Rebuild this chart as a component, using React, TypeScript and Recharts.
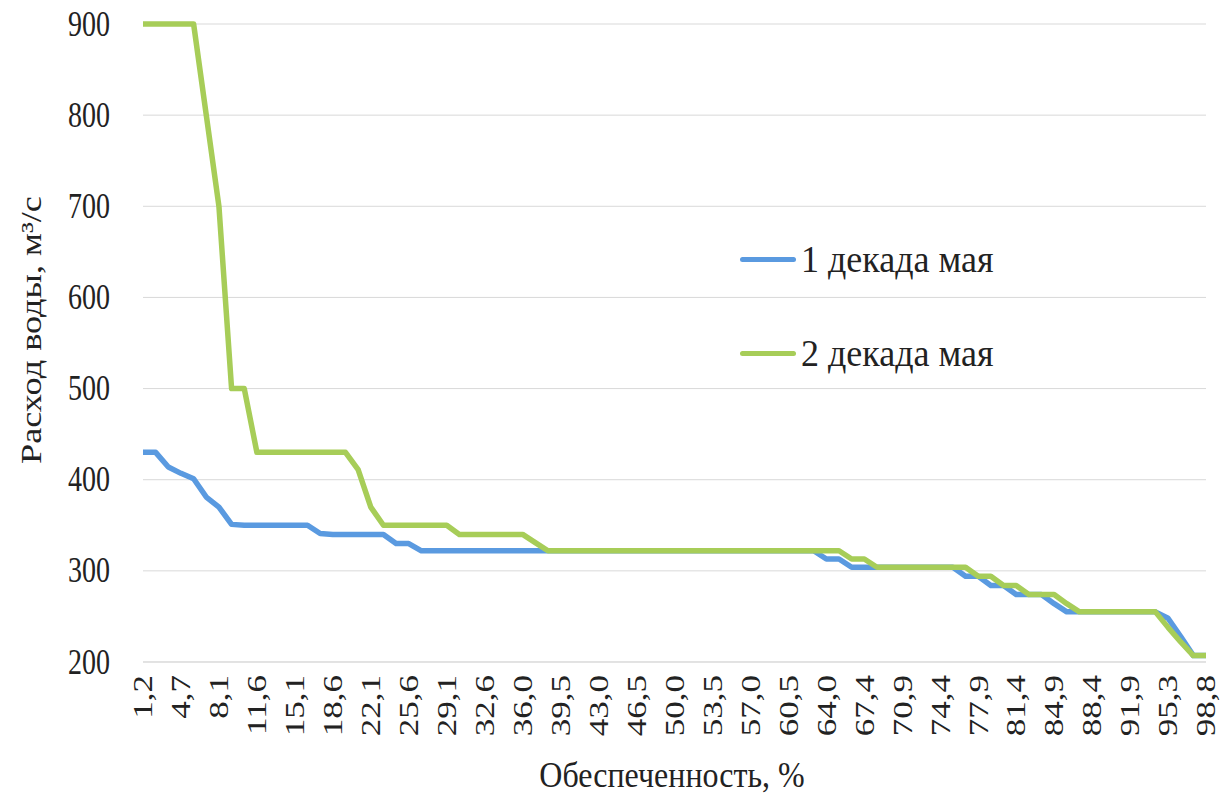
import { LineChart, Line, XAxis, YAxis, CartesianGrid, Legend, Label } from 'recharts';

// обеспеченность p = m/(n+1), n = 85
const categories = [
  '1,2', '2,3', '3,5', '4,7', '5,8', '7,0', '8,1', '9,3', '10,5', '11,6',
  '12,8', '14,0', '15,1', '16,3', '17,4', '18,6', '19,8', '20,9', '22,1', '23,3',
  '24,4', '25,6', '26,7', '27,9', '29,1', '30,2', '31,4', '32,6', '33,7', '34,9',
  '36,0', '37,2', '38,4', '39,5', '40,7', '41,9', '43,0', '44,2', '45,3', '46,5',
  '47,7', '48,8', '50,0', '51,2', '52,3', '53,5', '54,7', '55,8', '57,0', '58,1',
  '59,3', '60,5', '61,6', '62,8', '64,0', '65,1', '66,3', '67,4', '68,6', '69,8',
  '70,9', '72,1', '73,3', '74,4', '75,6', '76,7', '77,9', '79,1', '80,2', '81,4',
  '82,6', '83,7', '84,9', '86,0', '87,2', '88,4', '89,5', '90,7', '91,9', '93,0',
  '94,2', '95,3', '96,5', '97,7', '98,8',
];

// 1 декада мая
const decade1 = [
  430, 430, 414, 407, 401, 381, 370, 351, 350, 350,
  350, 350, 350, 350, 341, 340, 340, 340, 340, 340,
  330, 330, 322, 322, 322, 322, 322, 322, 322, 322,
  322, 322, 322, 322, 322, 322, 322, 322, 322, 322,
  322, 322, 322, 322, 322, 322, 322, 322, 322, 322,
  322, 322, 322, 322, 313, 313, 304, 304, 304, 304,
  304, 304, 304, 304, 304, 294, 294, 284, 284, 274,
  274, 274, 264, 255, 255, 255, 255, 255, 255, 255,
  255, 248, 228, 207, 207,
];

// 2 декада мая
const decade2 = [
  900, 900, 900, 900, 900, 800, 700, 500, 500, 430,
  430, 430, 430, 430, 430, 430, 430, 411, 370, 350,
  350, 350, 350, 350, 350, 340, 340, 340, 340, 340,
  340, 331, 322, 322, 322, 322, 322, 322, 322, 322,
  322, 322, 322, 322, 322, 322, 322, 322, 322, 322,
  322, 322, 322, 322, 322, 322, 313, 313, 304, 304,
  304, 304, 304, 304, 304, 304, 294, 294, 284, 284,
  274, 274, 274, 264, 255, 255, 255, 255, 255, 255,
  255, 238, 222, 207, 207,
];

const yTicks = [200, 300, 400, 500, 600, 700, 800, 900];

const FONT = 'Liberation Serif';
const STRETCH = 1.25; // the scan is stretched vertically
const TEXT = '#222';

const data = categories.map((c, i) => ({ p: c, d1: decade1[i], d2: decade2[i] }));

const svgText = { fontFamily: FONT };

function YTick({ x, y, payload }: any) {
  return (
    <g transform={`translate(${x},${y}) scale(1,${STRETCH})`}>
      <text x={0} y={0} dy={9.3} textAnchor="end" style={svgText} fontSize={28} fill={TEXT}>
        {payload.value}
      </text>
    </g>
  );
}

function XTick({ x, y, payload }: any) {
  return (
    <g transform={`translate(${x},${y}) rotate(-90) scale(${STRETCH},1)`}>
      <text x={0} y={0} dy={9.3} textAnchor="end" style={svgText} fontSize={28} fill={TEXT}>
        {payload.value}
      </text>
    </g>
  );
}

const renderLegend = ({ payload }: any) => (
  <div>
    {(payload || []).map((item: any) => (
      <div key={item.value} style={{ height: 94, display: 'flex', alignItems: 'center' }}>
        <div style={{ width: 56, height: 5, borderRadius: 3, background: item.color }} />
        <span
          style={{
            marginLeft: 5,
            fontFamily: FONT,
            fontSize: 36,
            lineHeight: 1,
            color: TEXT,
            display: 'inline-block',
            transform: 'scaleY(1.08)',
            whiteSpace: 'nowrap',
          }}
        >
          {item.value}
        </span>
      </div>
    ))}
  </div>
);

export default function App() {
  return (
    <div style={{ position: 'absolute', left: 0, top: 0, background: '#fff' }}>
      <LineChart width={1232} height={797} data={data} margin={{ top: 24, right: 26, bottom: 0, left: 0 }}>
        <CartesianGrid vertical={false} stroke="#d9d9d9" />
        <XAxis
          dataKey="p"
          interval={2}
          height={135}
          tickSize={0}
          tickMargin={13}
          tickLine={false}
          axisLine={{ stroke: '#d9d9d9' }}
          tick={<XTick />}
        >
          <Label
            content={() => (
              <g transform={`translate(672,787) scale(1,1.15)`}>
                <text x={0} y={0} textAnchor="middle" style={svgText} fontSize={32} fill={TEXT}>
                  Обеспеченность, %
                </text>
              </g>
            )}
          />
        </XAxis>
        <YAxis
          type="number"
          domain={[200, 900]}
          ticks={yTicks}
          width={143}
          tickSize={0}
          tickMargin={33}
          tickLine={false}
          axisLine={false}
          tick={<YTick />}
        >
          <Label
            content={() => (
              <g transform={`translate(41,330) rotate(-90) scale(${STRETCH},1)`}>
                <text x={0} y={0} textAnchor="middle" style={svgText} fontSize={29} fill={TEXT}>
                  Расход воды, м³/с
                </text>
              </g>
            )}
          />
        </YAxis>
        <Legend
          layout="vertical"
          align="center"
          verticalAlign="middle"
          wrapperStyle={{ left: 740, top: 212, width: 320 }}
          content={renderLegend}
        />
        <Line
          name="1 декада мая"
          dataKey="d1"
          type="linear"
          stroke="#5a9ae0"
          strokeWidth={5.5}
          strokeLinejoin="round"
          dot={false}
          activeDot={false}
          isAnimationActive={false}
        />
        <Line
          name="2 декада мая"
          dataKey="d2"
          type="linear"
          stroke="#a7cd58"
          strokeWidth={5.5}
          strokeLinejoin="round"
          dot={false}
          activeDot={false}
          isAnimationActive={false}
        />
      </LineChart>
    </div>
  );
}
